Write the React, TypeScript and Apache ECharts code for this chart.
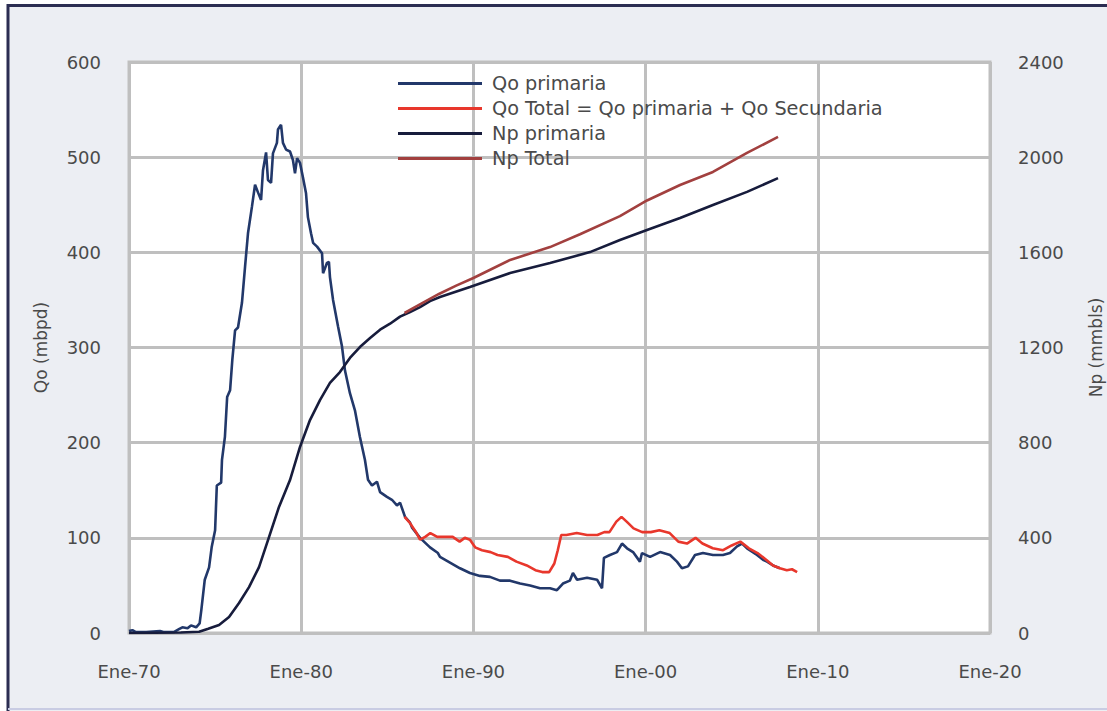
import React, { useEffect, useRef } from "react";
import * as echarts from "echarts";

const xTicks = ["Ene-70", "Ene-80", "Ene-90", "Ene-00", "Ene-10", "Ene-20"];
const seriesNames = ["Qo primaria", "Qo Total = Qo primaria + Qo Secundaria", "Np primaria", "Np Total"];

// [year, mbpd]
const qoPrimaria: [number, number][] = [
  [1970.0, 2], [1970.2, 3], [1970.4, 1], [1971.0, 1], [1971.8, 2], [1972.0, 1], [1972.6, 1], [1972.9, 4],
  [1973.1, 6], [1973.4, 5], [1973.6, 8], [1973.9, 6], [1974.1, 10], [1974.2, 24], [1974.4, 56], [1974.65, 69],
  [1974.8, 90], [1975.0, 108], [1975.1, 155], [1975.35, 158], [1975.4, 182], [1975.57, 206], [1975.7, 248],
  [1975.87, 255], [1976.0, 287], [1976.16, 318], [1976.33, 321], [1976.56, 347], [1976.74, 385], [1976.91, 420],
  [1977.14, 448], [1977.32, 471], [1977.49, 463], [1977.67, 455], [1977.78, 486], [1977.96, 505], [1978.07, 476],
  [1978.25, 473], [1978.36, 504], [1978.59, 515], [1978.65, 529], [1978.83, 534], [1978.94, 515], [1979.12, 508],
  [1979.35, 506], [1979.52, 497], [1979.64, 483], [1979.76, 499], [1979.93, 494], [1980.1, 479], [1980.28, 462],
  [1980.39, 437], [1980.57, 420], [1980.69, 410], [1980.92, 406], [1981.21, 399], [1981.27, 378], [1981.5, 389],
  [1981.61, 390], [1981.67, 374], [1981.85, 350], [1982.14, 322], [1982.37, 301], [1982.54, 276], [1982.83, 252],
  [1983.12, 234], [1983.41, 206], [1983.7, 182], [1983.88, 161], [1984.11, 155], [1984.4, 159], [1984.58, 148],
  [1984.98, 143], [1985.27, 140], [1985.56, 134], [1985.74, 137], [1986.03, 122], [1986.32, 116], [1986.43, 111],
  [1986.9, 100], [1987.48, 90], [1987.94, 84], [1988.06, 80], [1988.64, 74], [1989.22, 68], [1989.8, 63],
  [1990.38, 60], [1990.96, 59], [1991.54, 55], [1992.13, 55], [1992.71, 52], [1993.29, 50], [1993.87, 47],
  [1994.45, 47], [1994.85, 45], [1995.2, 52], [1995.6, 55], [1995.78, 63], [1996.02, 56], [1996.6, 58],
  [1997.18, 56], [1997.47, 47], [1997.58, 79], [1997.93, 82], [1998.34, 85], [1998.63, 94], [1998.92, 89],
  [1999.27, 85], [1999.67, 75], [1999.79, 84], [2000.26, 80], [2000.84, 85], [2001.42, 82], [2001.82, 75],
  [2002.11, 68], [2002.46, 70], [2002.87, 82], [2003.33, 84], [2003.91, 82], [2004.49, 82], [2004.9, 84],
  [2005.31, 91], [2005.6, 94], [2005.89, 89], [2006.47, 82], [2006.82, 77], [2007.05, 75], [2007.4, 71],
  [2007.8, 68],
];

// [year, mbpd]
const qoTotal: [number, number][] = [
  [1986.0, 122], [1986.3, 116], [1986.7, 105], [1986.9, 98], [1987.2, 101], [1987.5, 105], [1987.9, 101],
  [1988.3, 101], [1988.8, 101], [1989.2, 96], [1989.5, 100], [1989.8, 98], [1990.1, 90], [1990.5, 87],
  [1991.0, 85], [1991.4, 82], [1992.0, 80], [1992.5, 75], [1993.1, 71], [1993.6, 66], [1994.0, 64],
  [1994.4, 64], [1994.7, 73], [1994.9, 87], [1995.1, 103], [1995.4, 103], [1996.0, 105], [1996.6, 103],
  [1997.2, 103], [1997.6, 106], [1997.9, 106], [1998.3, 117], [1998.6, 122], [1998.9, 117], [1999.3, 110],
  [1999.8, 106], [2000.3, 106], [2000.8, 108], [2001.4, 105], [2001.9, 96], [2002.4, 94], [2002.9, 100],
  [2003.3, 94], [2003.9, 89], [2004.5, 87], [2005.0, 92], [2005.5, 96], [2006.0, 89], [2006.5, 84],
  [2007.0, 77], [2007.4, 71], [2007.8, 68], [2008.2, 66], [2008.5, 67], [2008.8, 64],
];

// [year, mmbls]
const npPrimaria: [number, number][] = [
  [1970.0, 0], [1973.0, 2], [1974.07, 5], [1974.6, 18], [1975.23, 34], [1975.81, 67], [1976.39, 126],
  [1976.97, 193], [1977.55, 277], [1978.13, 403], [1978.71, 530], [1979.35, 643], [1979.93, 782],
  [1980.51, 895], [1981.09, 979], [1981.67, 1051], [1982.25, 1097], [1982.83, 1156], [1983.41, 1202],
  [1984.0, 1240], [1984.58, 1275], [1985.16, 1300], [1985.74, 1330], [1986.32, 1349], [1986.9, 1370],
  [1987.48, 1395], [1988.06, 1412], [1989.8, 1454], [1992.13, 1513], [1994.45, 1555], [1996.77, 1601],
  [1998.51, 1652], [2000.08, 1694], [2002.0, 1744], [2003.91, 1799], [2005.89, 1854], [2007.69, 1912],
];

// [year, mmbls]
const npTotal: [number, number][] = [
  [1986.0, 1345], [1987.0, 1385], [1988.0, 1425], [1989.0, 1460], [1990.0, 1492], [1992.13, 1568],
  [1994.45, 1622], [1996.19, 1676], [1998.51, 1752], [2000.08, 1818], [2002.0, 1883], [2003.91, 1938],
  [2005.89, 2018], [2007.69, 2085],
];

const colors = ["#22386a", "#e8372c", "#171c3c", "#a2403f"];

export default function App() {
  const ref = useRef<HTMLDivElement>(null);
  useEffect(() => {
    if (!ref.current) return;
    const chart = echarts.init(ref.current, null, { renderer: "svg" });
    const font = "DejaVu Sans";
    const labelColor = "#4a4a4a";
    const gridColor = "#bfbfbf";
    const datasets = [qoPrimaria, qoTotal, npPrimaria, npTotal];
    chart.setOption({
      animation: false,
      backgroundColor: "#eceef3",
      textStyle: { fontFamily: font },
      graphic: [
        { type: "rect", shape: { x: 0, y: 0, width: 1107, height: 5 }, style: { fill: "#ffffff" }, silent: true },
        { type: "rect", shape: { x: 0, y: 0, width: 7, height: 711 }, style: { fill: "#ffffff" }, silent: true },
        { type: "line", shape: { x1: 7, y1: 5.5, x2: 1107, y2: 5.5 }, style: { stroke: "#2b2d52", lineWidth: 3 }, silent: true },
        { type: "line", shape: { x1: 8, y1: 4, x2: 8, y2: 711 }, style: { stroke: "#2b2d52", lineWidth: 3 }, silent: true },
        { type: "line", shape: { x1: 8, y1: 709, x2: 1107, y2: 709 }, style: { stroke: "#c9cce3", lineWidth: 2 }, silent: true },
      ],
      grid: {
        left: 129, right: 117, top: 62, bottom: 78,
        outerBoundsMode: "none",
        containLabel: false,
        show: true, backgroundColor: "#ffffff", borderColor: gridColor, borderWidth: 3,
      },
      legend: {
        orient: "vertical",
        left: 398,
        top: 74,
        padding: 0,
        itemWidth: 84,
        itemHeight: 3,
        itemGap: 6,
        icon: "rect",
        data: seriesNames,
        textStyle: { fontFamily: font, fontSize: 19.3, color: labelColor, lineHeight: 18, padding: [0, 0, 0, 5] },
      },
      xAxis: {
        type: "value",
        min: 1970,
        max: 2020,
        interval: 10,
        axisLine: { show: false },
        axisTick: { show: false },
        splitLine: { show: true, lineStyle: { color: gridColor, width: 3 } },
        axisLabel: {
          margin: 29,
          fontSize: 18,
          color: labelColor,
          fontFamily: font,
          formatter: (v: number) => xTicks[Math.round((v - 1970) / 10)] ?? "",
        },
      },
      yAxis: [
        {
          type: "value",
          min: 0, max: 600, interval: 100,
          name: "Qo (mbpd)",
          nameLocation: "middle",
          nameGap: 80,
          nameTextStyle: { fontSize: 17, color: labelColor, fontFamily: font },
          axisLine: { show: false },
          axisTick: { show: false },
          splitLine: { show: true, lineStyle: { color: gridColor, width: 3 } },
          axisLabel: { margin: 28, fontSize: 18, color: labelColor, fontFamily: font, formatter: (v: number) => String(v) },
        },
        {
          type: "value",
          min: 0, max: 2400, interval: 400,
          name: "Np (mmbls)",
          nameLocation: "middle",
          nameGap: 97,
          nameTextStyle: { fontSize: 17, color: labelColor, fontFamily: font },
          axisLine: { show: false },
          axisTick: { show: false },
          splitLine: { show: false },
          axisLabel: { margin: 28, fontSize: 18, color: labelColor, fontFamily: font, formatter: (v: number) => String(v) },
        },
      ],
      series: seriesNames.map((name, i) => ({
        name,
        type: "line",
        yAxisIndex: i >= 2 ? 1 : 0,
        data: datasets[i],
        showSymbol: false,
        symbol: "none",
        color: colors[i],
        lineStyle: { color: colors[i], width: 2.6 },
      })),
    });
    return () => chart.dispose();
  }, []);
  return <div ref={ref} style={{ position: "fixed", left: 0, top: 0, width: 1107, height: 711 }} />;
}
